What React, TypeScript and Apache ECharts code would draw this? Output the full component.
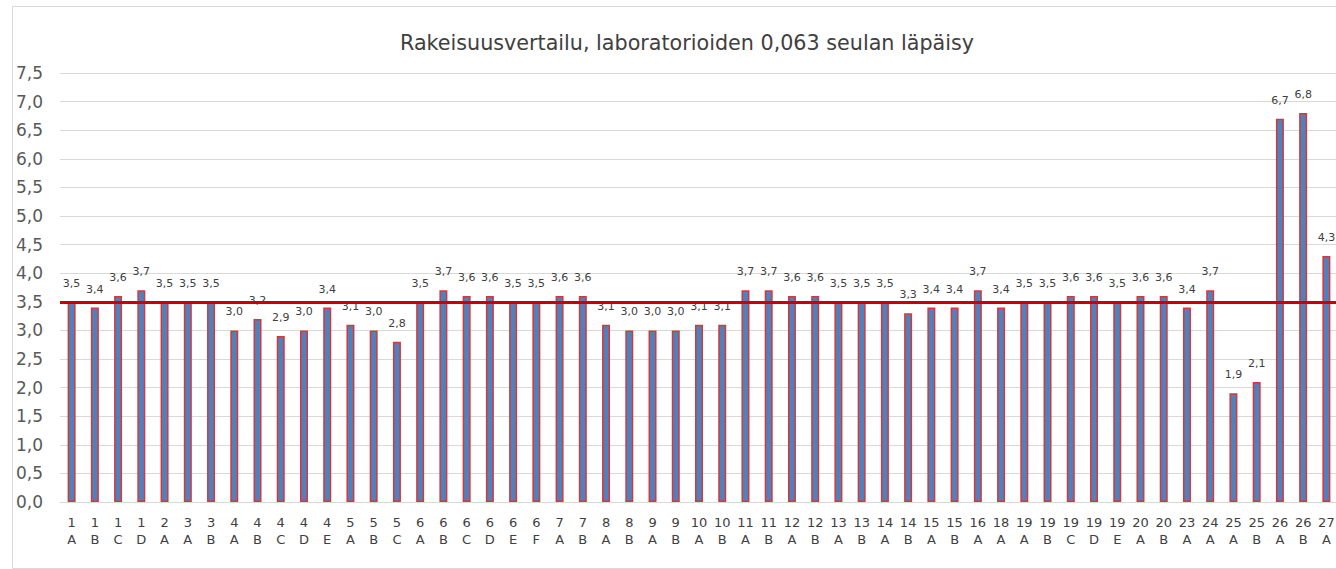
import React, { useEffect, useRef } from "react";
import * as echarts from "echarts";

const labNumbers = [
  "1", "1", "1", "1", "2", "3", "3", "4", "4", "4", "4", "4", "5", "5", "5",
  "6", "6", "6", "6", "6", "6", "7", "7", "8", "8", "9", "9", "10", "10",
  "11", "11", "12", "12", "13", "13", "14", "14", "15", "15", "16", "18",
  "19", "19", "19", "19", "19", "20", "20", "23", "24", "25", "25", "26", "26", "27",
];
const sampleLetters = [
  "A", "B", "C", "D", "A", "A", "B", "A", "B", "C", "D", "E", "A", "B", "C",
  "A", "B", "C", "D", "E", "F", "A", "B", "A", "B", "A", "B", "A", "B",
  "A", "B", "A", "B", "A", "B", "A", "B", "A", "B", "A", "A",
  "A", "B", "C", "D", "E", "A", "B", "A", "A", "A", "B", "A", "B", "A",
];
const passingValues = [
  3.5, 3.4, 3.6, 3.7, 3.5, 3.5, 3.5, 3.0, 3.2, 2.9, 3.0, 3.4, 3.1, 3.0, 2.8,
  3.5, 3.7, 3.6, 3.6, 3.5, 3.5, 3.6, 3.6, 3.1, 3.0, 3.0, 3.0, 3.1, 3.1,
  3.7, 3.7, 3.6, 3.6, 3.5, 3.5, 3.5, 3.3, 3.4, 3.4, 3.7, 3.4,
  3.5, 3.5, 3.6, 3.6, 3.5, 3.6, 3.6, 3.4, 3.7, 1.9, 2.1, 6.7, 6.8, 4.3,
];
const referenceLevel = 3.5;
const titleText = "Rakeisuusvertailu, laboratorioiden 0,063 seulan läpäisy";

const fmt = (v: number) => v.toFixed(1).replace(".", ",");

export default function App() {
  const ref = useRef<HTMLDivElement>(null);
  useEffect(() => {
    if (!ref.current) return;
    const chart = echarts.init(ref.current, null, { renderer: "svg" });
    const categories = labNumbers.map((n, i) => n + "\n" + sampleLetters[i]);
    chart.setOption({
      animation: false,
      backgroundColor: "#ffffff",
      title: {
        text: titleText,
        left: 682,
        top: 27,
        textAlign: "center",
        textStyle: {
          fontFamily: "DejaVu Sans",
          fontSize: 20.7,
          fontWeight: "normal",
          color: "#404040",
        },
      },
      graphic: [
        {
          type: "rect",
          left: 10,
          top: 4,
          shape: { width: 1340, height: 562 },
          style: { fill: "none", stroke: "#d9d9d9", lineWidth: 1 },
          silent: true,
        },
      ],
      grid: {
        left: 60,
        right: -2,
        top: 73,
        bottom: 67,
        containLabel: false,
        outerBoundsMode: "none",
      },
      xAxis: {
        type: "category",
        data: categories,
        axisTick: { show: false },
        axisLine: { show: true, lineStyle: { color: "#d9d9d9", width: 1 } },
        axisLabel: {
          interval: 0,
          fontFamily: "DejaVu Sans",
          fontSize: 13,
          lineHeight: 17,
          color: "#404040",
          margin: 12,
        },
      },
      yAxis: {
        type: "value",
        min: 0,
        max: 7.5,
        interval: 0.5,
        axisLine: { show: false },
        axisTick: { show: false },
        splitLine: { lineStyle: { color: "#d9d9d9", width: 1 } },
        axisLabel: {
          formatter: (v: number) => fmt(v),
          fontFamily: "DejaVu Sans",
          fontSize: 17,
          color: "#595959",
          margin: 17,
        },
      },
      series: [
        {
          type: "bar",
          data: passingValues,
          barWidth: 8,
          itemStyle: {
            color: "#4F81BD",
            borderColor: "#D6383A",
            borderWidth: 1.5,
          },
          label: {
            show: true,
            position: "top",
            distance: 13,
            formatter: (p: any) => fmt(p.value),
            fontFamily: "DejaVu Sans",
            fontSize: 11,
            color: "#404040",
          },
          markLine: {
            silent: true,
            symbol: "none",
            label: { show: false },
            lineStyle: { color: "#C80000", width: 3, type: "solid" },
            data: [{ yAxis: referenceLevel }],
            z: 10,
          },
        },
      ],
    });
    return () => chart.dispose();
  }, []);
  return (
    <div
      ref={ref}
      style={{ position: "absolute", left: 0, top: 0, width: 1336, height: 569 }}
    />
  );
}
